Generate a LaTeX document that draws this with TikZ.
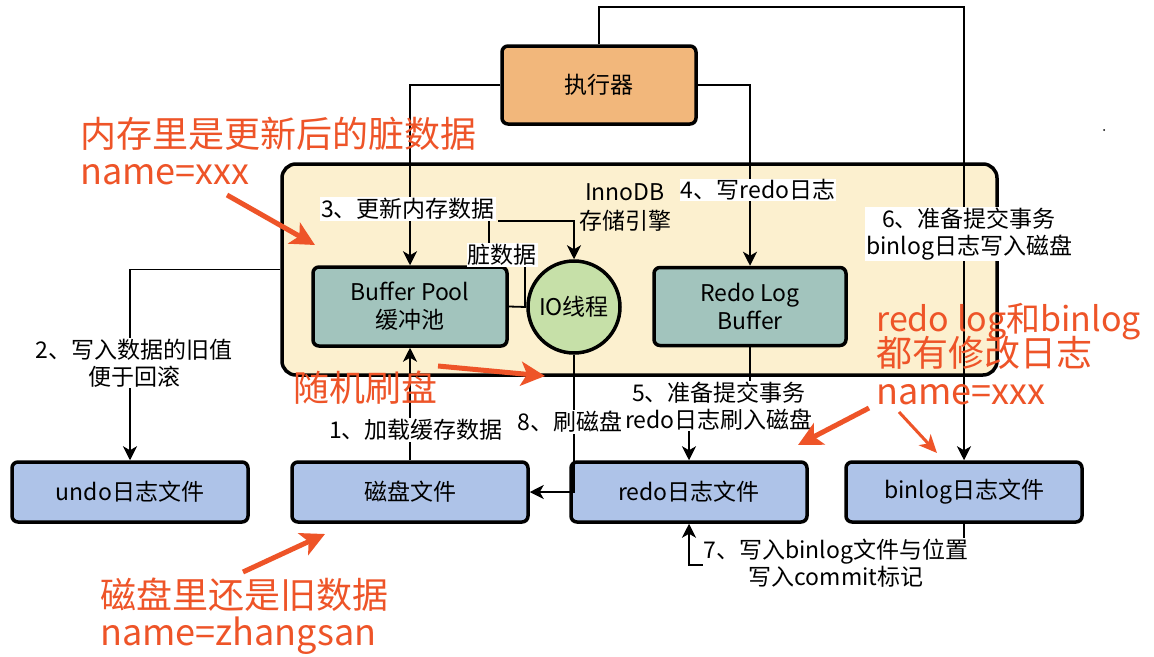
\documentclass[tikz,border=0pt]{standalone}
\usepackage{fontspec}
\setmainfont{Noto Sans CJK SC}
\usetikzlibrary{arrows.meta,calc}
\definecolor{execc}{HTML}{F2B77B}
\definecolor{innoc}{HTML}{FCF0CF}
\definecolor{tealc}{HTML}{A2C4BD}
\definecolor{greenc}{HTML}{C6E0A8}
\definecolor{bluec}{HTML}{AEC3E8}
\definecolor{redc}{HTML}{EE5428}
\begin{document}
\begin{tikzpicture}[x=1pt,y=-1pt,
  box/.style={draw, line width=3.5pt, rounded corners=6pt, inner sep=0pt, align=center,
    font=\fontsize{23}{28}\selectfont},
  conn/.style={line width=1.8pt},
  arr/.style={conn, -{Stealth[length=14pt,width=14pt,inset=4pt]}},
  lbl/.style={fill=white, inner sep=1pt, align=center, font=\fontsize{23}{27}\selectfont},
  redtxt/.style={text=redc, inner sep=0pt, anchor=base west, font=\fontsize{36}{40}\selectfont},
  redarr/.style={draw=redc, line width=5pt, -{Stealth[length=24pt,width=24pt,inset=6pt]}}
]
\useasboundingbox (0,0) rectangle (1154,656);
\fill[white] (0,0) rectangle (1154,656);

% container
\node[box, fill=innoc, rounded corners=14pt, minimum width=715pt, minimum height=211pt] (inno) at (639.5,269.5) {};
\node[inner sep=0pt, align=center, font=\fontsize{23}{29}\selectfont] (innolbl) at (625,207) {InnoDB\\存储引擎};

% nodes
\node[box, fill=execc, minimum width=194pt, minimum height=78pt] (exec) at (599,85) {执行器};
\node[box, fill=tealc, minimum width=194pt, minimum height=79pt] (bp) at (410,306.5) {Buffer Pool\\缓冲池};
\node[draw, circle, line width=3.5pt, fill=greenc, minimum size=92pt, inner sep=0pt, font=\fontsize{23}{28}\selectfont] (io) at (574,307) {IO线程};
\node[box, fill=tealc, minimum width=192pt, minimum height=78pt] (rlb) at (750,306.5) {Redo Log\\Buffer};
\node[box, fill=bluec, minimum width=236pt, minimum height=60pt] (undo) at (130,492) {undo日志文件};
\node[box, fill=bluec, minimum width=236pt, minimum height=60pt] (disk) at (410,492) {磁盘文件};
\node[box, fill=bluec, minimum width=236pt, minimum height=60pt] (redo) at (689,492) {redo日志文件};
\node[box, fill=bluec, minimum width=236pt, minimum height=60pt] (binlog) at (964,492) {binlog日志文件};

% connectors
\coordinate (tp) at (964,7);
\draw[arr] (exec.north) |- (tp) -- (binlog.north);
\draw[arr] (exec.west) -| (bp.north);
\draw[arr] (exec.east) -| (rlb.north);
\coordinate (c3) at (498,221);
\draw[arr] (c3) -| (io.north);
\draw[conn] (bp.east) -- (io.west);
\draw[arr] (inno.west) -| (undo.north);
\draw[arr] (disk.north) -- (bp.south);
\draw[arr] (io.south) |- (disk.east);
\draw[arr] (rlb.south) -- ++(0,60) -| (redo.north);
\draw[arr] (binlog.south) -- ++(0,41) -| (redo.south);

% labels
\node[lbl] (l3) at (408,209) {3、更新内存数据};
\node[lbl] (ld) at (502,255) {脏数据};
\coordinate (d1) at (489,221);
\coordinate (d2) at (525,307);
\draw[conn] (d1) -- (d1 |- ld.north);
\draw[conn] (d2) -- (d2 |- ld.south);
\node[lbl] (l4) at (758,190) {4、写redo日志};
\node[lbl] (l6) at (969,234) {6、准备提交事务\\binlog日志写入磁盘};
\node[lbl] (l2) at (134,363) {2、写入数据的旧值\\便于回滚};
\node[lbl] (l1) at (416,430) {1、加载缓存数据};
\node[lbl] (l8) at (570,422) {8、刷磁盘};
\node[lbl] (l5) at (719,406) {5、准备提交事务\\redo日志刷入磁盘};
\node[lbl] (l7) at (836,563) {7、写入binlog文件与位置\\写入commit标记};

\fill (1104,130) circle (1pt);

% red annotations
\node[redtxt] (r1a) at (80,147) {内存里是更新后的脏数据};
\node[redtxt] (r1b) at (80,184) {name=xxx};
\node[redtxt] (r2) at (293,401) {随机刷盘};
\node[redtxt, font=\fontsize{34}{40}\selectfont] (r3a) at (876,331) {redo log和binlog};
\node[redtxt] (r3b) at (876,366) {都有修改日志};
\node[redtxt] (r3c) at (876,404) {name=xxx};
\node[redtxt] (r4a) at (100,608) {磁盘里还是旧数据};
\node[redtxt] (r4b) at (100,645) {name=zhangsan};

\coordinate (a1s) at (227,195); \coordinate (a1e) at (315,245);
\coordinate (a2s) at (438,366); \coordinate (a2e) at (545,376);
\coordinate (a3s) at (869,408); \coordinate (a3e) at (798,445);
\coordinate (a4s) at (899,412); \coordinate (a4e) at (937,453);
\coordinate (a5s) at (243,572); \coordinate (a5e) at (325,534);
\draw[redarr] (a1s) -- (a1e);
\draw[redarr] (a2s) -- (a2e);
\draw[redarr] (a3s) -- (a3e);
\draw[redarr, line width=3pt, -{Stealth[length=18pt,width=16pt,inset=5pt]}] (a4s) -- (a4e);
\draw[redarr] (a5s) -- (a5e);
\end{tikzpicture}
\end{document}
